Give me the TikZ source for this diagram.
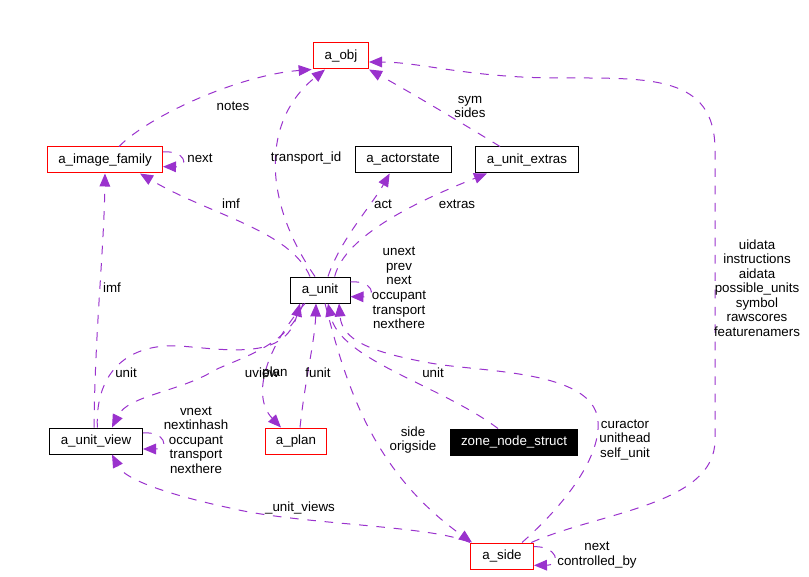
\documentclass[tikz,border=0pt]{standalone}
\usepackage{fontspec}
\setmainfont{Liberation Sans}
\usetikzlibrary{arrows.meta}
\definecolor{edgepurple}{HTML}{9A32CD}

\begin{document}
\begin{tikzpicture}[x=0.75pt,y=-0.75pt,
cls/.style={draw=black,line width=0.75pt,minimum height=19.5pt,inner xsep=4pt,inner ysep=0pt,font=\fontsize{10}{12}\selectfont},
redcls/.style={cls,draw=red},
filledcls/.style={cls,fill=black,text=white},
arrowlabel/.style={font=\fontsize{10}{10.9}\selectfont,align=center,inner sep=0pt},
arrow/.style={-{Triangle[length=9.75pt,width=8pt]},draw=edgepurple,line width=0.75pt,dash pattern=on 6.5pt off 6.5pt} ]

\useasboundingbox (0,0) rectangle (809,577);

% classes
\node[redcls,minimum width=41.25pt] (obj) at (341,56) {a\_obj};
\node[redcls,minimum width=86.25pt] (imgfam) at (105,160) {a\_image\_family};
\node[cls,minimum width=72pt] (actor) at (403,160) {a\_actorstate};
\node[cls,minimum width=77.25pt] (extras) at (527,160) {a\_unit\_extras};
\node[cls,minimum width=45pt] (unit) at (320,290) {a\_unit};
\node[cls,minimum width=69.75pt] (uview) at (96,441) {a\_unit\_view};
\node[redcls,minimum width=45.75pt] (plan) at (296,441) {a\_plan};
\node[filledcls,minimum width=95.25pt] (zone) at (514,442) {zone\_node\_struct};
\node[redcls,minimum width=47.25pt] (side) at (502,556) {a\_side};

% usage edges
\draw[arrow] ([xshift=10.5pt]imgfam.north) .. controls (150,115) and (240,75) .. ([xshift=-1pt]obj.south west);
\node[arrowlabel] (lnotes) at (233,106) {notes};

\draw[arrow] ([yshift=6pt]imgfam.east) .. controls (185,150) and (190,167) .. ([yshift=-5pt]imgfam.east);
\node[arrowlabel] (limgnext) at (200,158) {next};

\draw[arrow] ([xshift=-3.75pt]unit.north) .. controls (262,200) and (262,120) .. ([xshift=-12pt]obj.south);
\node[arrowlabel] (ltransport) at (306,158) {transport\_id};

\draw[arrow] ([xshift=-20.25pt]extras.north) .. controls (470,128) and (410,92) .. (obj.south east);
\node[arrowlabel] (lsym) at (470,107) {sym\\sides};

\draw[arrow] ([xshift=-2pt]side.north east) .. controls (600,512) and (715,505) .. (715,440)
  -- (715,150) .. controls (715,75) and (650,78) .. (560,78)
  .. controls (470,78) and (420,62) .. ([yshift=-4.5pt]obj.east);
\node[arrowlabel] (luidata) at (757,288) {uidata\\instructions\\aidata\\possible\_units\\symbol\\rawscores\\featurenamers};

\draw[arrow] ([xshift=-7.5pt]unit.north) .. controls (290,230) and (210,215) .. ([xshift=26.25pt]imgfam.south);
\node[arrowlabel] (limf) at (231,204) {imf};

\draw[arrow] ([xshift=6pt]unit.north) .. controls (340,240) and (372,205) .. ([xshift=-10pt]actor.south);
\node[arrowlabel] (lact) at (383,204) {act};

\draw[arrow] ([xshift=11pt]unit.north) .. controls (345,235) and (420,200) .. ([xshift=-30pt]extras.south);
\node[arrowlabel] (lextras) at (457,204) {extras};

\draw[arrow] ([yshift=6pt]unit.east) .. controls (372,280) and (378,297) .. ([yshift=-5pt]unit.east);
\node[arrowlabel] (lunitself) at (399,288) {unext\\prev\\next\\occupant\\transport\\nexthere};

\draw[arrow] ([xshift=-1.5pt]uview.north) .. controls (95,330) and (104,250) .. (imgfam.south);
\node[arrowlabel] (lviewimf) at (112,288) {imf};

\draw[arrow] ([xshift=1pt]uview.north) .. controls (95,370) and (130,343) .. (180,346)
  .. controls (230,350) and (285,360) .. ([xshift=-15pt]unit.south);
\node[arrowlabel] (lviewunit) at (126,373) {unit};

\draw[arrow] ([xshift=-12.75pt]unit.south) .. controls (290,345) and (240,358) .. (215,370)
  .. controls (180,392) and (128,395) .. ([xshift=12pt]uview.north);
\node[arrowlabel] (luview) at (262,373) {uview};

\draw[arrow] ([xshift=-11.25pt]unit.south) .. controls (268,345) and (250,395) .. ([xshift=-11.25pt]plan.north);
\node[arrowlabel] (lplan) at (275,373) {plan};

\draw[arrow] ([xshift=3pt]plan.north) .. controls (305,380) and (315,340) .. ([xshift=-3pt]unit.south);
\node[arrowlabel] (lfunit) at (318,373) {funit};

\draw[arrow] ([xshift=3.75pt]unit.south) .. controls (345,380) and (370,470) .. ([xshift=1.5pt]side.north west);
\node[arrowlabel] (lside) at (413,440) {side\\origside};

\draw[arrow] ([xshift=-12pt]zone.north) .. controls (440,385) and (340,360) .. ([xshift=6pt]unit.south);
\node[arrowlabel] (lzoneunit) at (433,373) {unit};

\draw[arrow] ([xshift=15pt]side.north) .. controls (570,500) and (605,450) .. (597,415)
  .. controls (585,370) and (480,372) .. (430,363)
  .. controls (370,352) and (342,340) .. ([xshift=14.25pt]unit.south);
\node[arrowlabel] (lcuractor) at (625,440) {curactor\\unithead\\self\_unit};

\draw[arrow] ([yshift=6pt]uview.east) .. controls (165,431) and (170,449) .. ([yshift=-6pt]uview.east);
\node[arrowlabel] (lviewself) at (196,440) {vnext\\nextinhash\\occupant\\transport\\nexthere};

\draw[arrow] (side.north west) .. controls (430,525) and (300,525) .. (230,508)
  .. controls (170,495) and (125,480) .. ([xshift=12pt]uview.south);
\node[arrowlabel] (lunitviews) at (300,508) {\_unit\_views};

\draw[arrow] ([yshift=7pt]side.east) .. controls (557,546) and (562,565) .. ([yshift=-7pt]side.east);
\node[arrowlabel] (lsideself) at (597,555) {next\\controlled\_by};

\end{tikzpicture}
\end{document}
